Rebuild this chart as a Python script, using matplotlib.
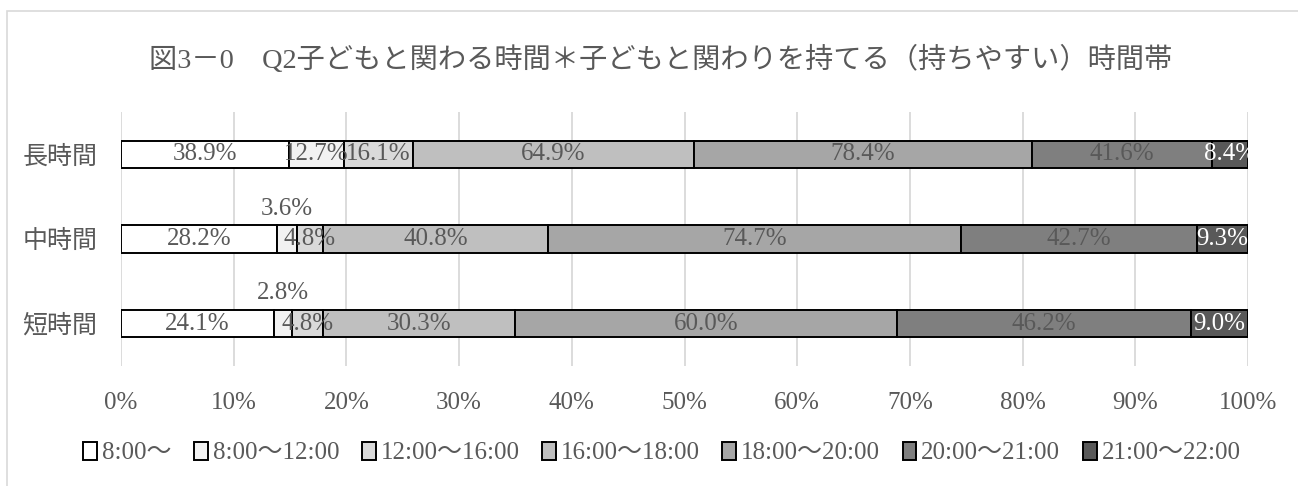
import matplotlib.pyplot as plt
import numpy as np
from matplotlib.patches import Rectangle

plt.rcParams['font.family'] = ['Liberation Serif', 'Noto Sans CJK JP']

title = '図3－0　Q2子どもと関わる時間＊子どもと関わりを持てる（持ちやすい）時間帯'
groups = ['長時間', '中時間', '短時間']
slots = ['8:00～', '8:00～12:00', '12:00～16:00', '16:00～18:00',
         '18:00～20:00', '20:00～21:00', '21:00～22:00']
# percent of respondents per time slot, rows follow groups
long_t = [38.9, 12.7, 16.1, 64.9, 78.4, 41.6, 8.4]
mid_t = [28.2, 3.6, 4.8, 40.8, 74.7, 42.7, 9.3]
short_t = [24.1, 2.8, 4.8, 30.3, 60.0, 46.2, 9.0]

colors = ['#ffffff', '#f2f2f2', '#d9d9d9', '#bfbfbf', '#a6a6a6', '#7f7f7f', '#595959']
txt = '#595959'

data = np.array([long_t, mid_t, short_t])
share = data / data.sum(axis=1, keepdims=True) * 100
ypos = np.arange(len(groups))

fig = plt.figure(figsize=(12.98, 4.86), dpi=100)
fig.patches.append(Rectangle((7 / 1298, -0.1), 1.2, 1 - 11 / 486 + 0.1,
                             transform=fig.transFigure, fill=False,
                             edgecolor='#d9d9d9', lw=1.2))
ax = fig.add_axes([121 / 1298, 1 - 366 / 486, 1127 / 1298, 254 / 486])

left = np.zeros(len(groups))
for j, s in enumerate(slots):
    ax.barh(ypos, share[:, j], left=left, height=0.32, color=colors[j],
            edgecolor='black', lw=1.4, label=s, zorder=3)
    for i in range(len(groups)):
        xc = left[i] + share[i, j] / 2
        lab = f'{data[i, j]:.1f}%'
        yc = ypos[i]
        # tiny segments get their label lifted above the bar
        if j == 1 and i > 0:
            yc = ypos[i] - 0.36
        c = 'white' if j == 6 else txt
        t = ax.text(xc, yc, lab, ha='center', va='center', color=c,
                    fontsize=18, zorder=4)
        if j == 6:
            t.set_clip_on(True)
    left += share[:, j]

ax.set_xlim(0, 100)
ax.set_ylim(2.5, -0.5)
ax.set_yticks(ypos)
ax.set_yticklabels(groups)
ax.set_xticks(np.arange(0, 101, 10))
ax.set_xticklabels([f'{v}%' for v in range(0, 101, 10)])
ax.tick_params(axis='y', length=0, pad=17, labelsize=18, labelcolor=txt)
ax.tick_params(axis='x', length=0, pad=19, labelsize=18, labelcolor=txt)
ax.grid(axis='x', color='#d9d9d9', lw=1.3, zorder=0)
for sp in ax.spines.values():
    sp.set_visible(False)

fig.text(661 / 1298, 1 - 60 / 486, title, ha='center', va='center', fontsize=20.3, color=txt)

fig.legend(loc='center', bbox_to_anchor=(0.51, 1 - 453 / 486), ncol=7, frameon=False,
           fontsize=18, handlelength=0.55, handleheight=0.75, handletextpad=0.2,
           columnspacing=0.9, labelcolor=txt)

fig.savefig('out.png', dpi=100)
